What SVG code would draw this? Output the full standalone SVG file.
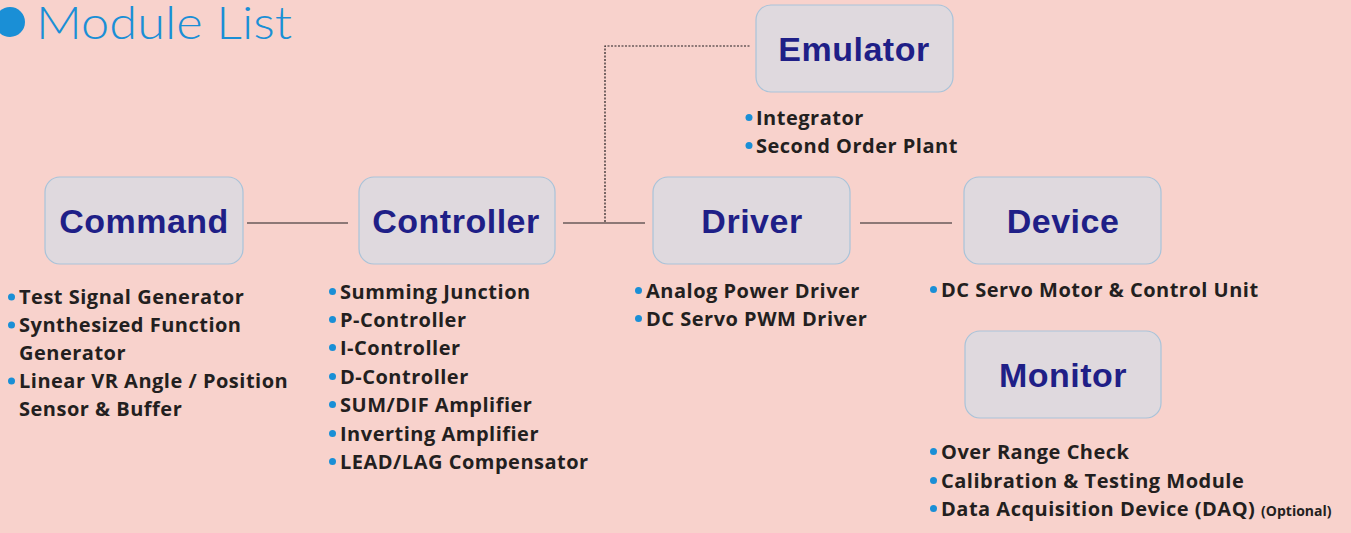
<svg xmlns="http://www.w3.org/2000/svg" width="1351" height="533" viewBox="0 0 1351 533">
<style>
.box{fill:#dfd9de;stroke:#a9c3d9;stroke-width:1.2}
.lbl{font-family:"Liberation Sans",Arial,sans-serif;font-weight:700;font-size:34px;letter-spacing:0.5px;fill:#1f1f87;text-anchor:middle}
.li{font-family:"Open Sans","Noto Sans",sans-serif;font-weight:700;font-size:20px;letter-spacing:0.5px;fill:#231f20}
.b{fill:#1a8fd6}
.conn{stroke:#231f20;stroke-width:1.2;fill:none}
.dot{stroke:#231f20;stroke-width:1.2;fill:none;stroke-dasharray:2 1.5}
</style>
<rect width="1351" height="533" fill="#f8d2cc"/>
<g id="title">
<circle cx="10" cy="22" r="15" fill="#1a8fd6"/>
<text x="36" y="39" font-family="Lato,'Open Sans',sans-serif" font-weight="300" font-size="45" fill="#1a8fd6" textLength="256" lengthAdjust="spacingAndGlyphs">Module List</text>
</g>
<g id="connectors">
<line class="conn" x1="247" y1="223" x2="348" y2="223"/>
<line class="conn" x1="563" y1="223" x2="645" y2="223"/>
<line class="conn" x1="860" y1="223" x2="952" y2="223"/>
<polyline class="dot" points="605,222 605,46 750,46"/>
</g>
<g id="command">
<rect class="box" x="45" y="177" width="198" height="87" rx="15"/>
<text class="lbl" x="144" y="233">Command</text>
<circle class="b" cx="11.5" cy="297" r="3.5"/>
<circle class="b" cx="11.5" cy="325" r="3.5"/>
<circle class="b" cx="11.5" cy="381" r="3.5"/>
<text class="li" x="19" y="304">Test Signal Generator</text>
<text class="li" x="19" y="332">Synthesized Function</text>
<text class="li" x="19" y="360">Generator</text>
<text class="li" x="19" y="388">Linear VR Angle / Position</text>
<text class="li" x="19" y="416">Sensor &amp; Buffer</text>
</g>
<g id="controller">
<rect class="box" x="359" y="177" width="196" height="87" rx="15"/>
<text class="lbl" x="456" y="233">Controller</text>
<circle class="b" cx="332.5" cy="291.5" r="3.5"/>
<circle class="b" cx="332.5" cy="319.5" r="3.5"/>
<circle class="b" cx="332.5" cy="347.5" r="3.5"/>
<circle class="b" cx="332.5" cy="376.5" r="3.5"/>
<circle class="b" cx="332.5" cy="404.5" r="3.5"/>
<circle class="b" cx="332.5" cy="433.5" r="3.5"/>
<circle class="b" cx="332.5" cy="461.5" r="3.5"/>
<text class="li" x="340" y="299">Summing Junction</text>
<text class="li" x="340" y="327">P-Controller</text>
<text class="li" x="340" y="355">I-Controller</text>
<text class="li" x="340" y="384">D-Controller</text>
<text class="li" x="340" y="412">SUM/DIF Amplifier</text>
<text class="li" x="340" y="441">Inverting Amplifier</text>
<text class="li" x="340" y="469">LEAD/LAG Compensator</text>
</g>
<g id="driver">
<rect class="box" x="653" y="177" width="197" height="87" rx="15"/>
<text class="lbl" x="752" y="233">Driver</text>
<circle class="b" cx="638.5" cy="290.5" r="3.5"/>
<circle class="b" cx="638.5" cy="318.5" r="3.5"/>
<text class="li" x="646" y="298">Analog Power Driver</text>
<text class="li" x="646" y="326">DC Servo PWM Driver</text>
</g>
<g id="device">
<rect class="box" x="964" y="177" width="197" height="87" rx="15"/>
<text class="lbl" x="1063" y="233">Device</text>
<circle class="b" cx="933.5" cy="289.5" r="3.5"/>
<text class="li" x="941" y="297">DC Servo Motor &amp; Control Unit</text>
</g>
<g id="emulator">
<rect class="box" x="756" y="5" width="197" height="87" rx="15"/>
<text class="lbl" x="854" y="61">Emulator</text>
<circle class="b" cx="749" cy="117.5" r="3.5"/>
<circle class="b" cx="749" cy="145.5" r="3.5"/>
<text class="li" x="756" y="125">Integrator</text>
<text class="li" x="756" y="153">Second Order Plant</text>
</g>
<g id="monitor">
<rect class="box" x="965" y="331" width="196" height="87" rx="15"/>
<text class="lbl" x="1063" y="387">Monitor</text>
<circle class="b" cx="933.5" cy="451.5" r="3.5"/>
<circle class="b" cx="933.5" cy="480.5" r="3.5"/>
<circle class="b" cx="933.5" cy="508.5" r="3.5"/>
<text class="li" x="941" y="459">Over Range Check</text>
<text class="li" x="941" y="488">Calibration &amp; Testing Module</text>
<text class="li" x="941" y="516">Data Acquisition Device (DAQ) <tspan font-size="14" letter-spacing="0">(Optional)</tspan></text>
</g>
</svg>
